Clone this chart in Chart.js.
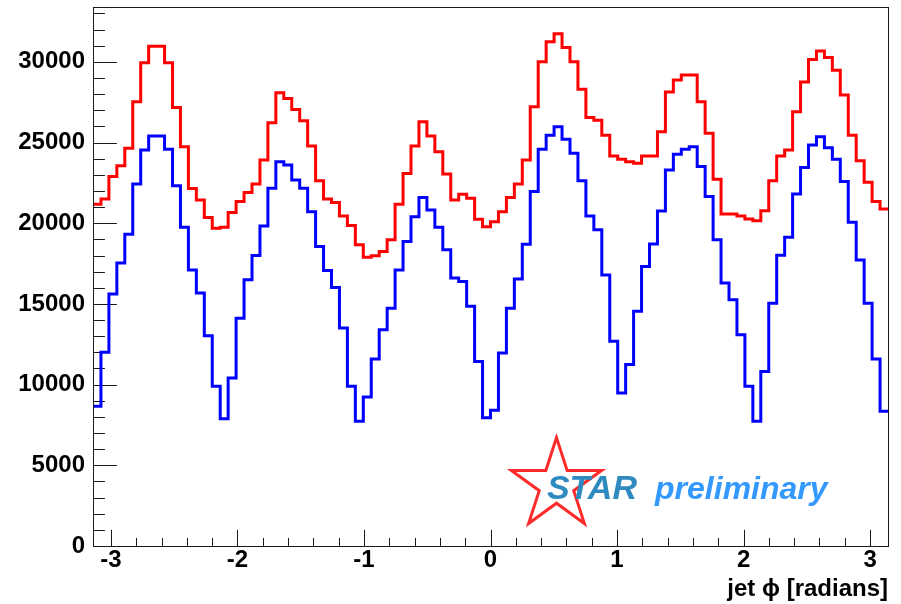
<!DOCTYPE html>
<html>
<head>
<meta charset="utf-8">
<script src="https://cdn.jsdelivr.net/npm/chart.js@4.4.1/dist/chart.umd.min.js"></script>
<style>
  html, body { margin: 0; padding: 0; background: #ffffff; }
  #wrap { width: 901px; height: 604px; }
</style>
</head>
<body>
<div id="wrap"><canvas id="c" width="901" height="604"></canvas></div>
<script>
// Binning of the jet azimuth histogram
const PHI_MIN = -Math.PI;
const PHI_MAX = Math.PI;
const N_BINS = 100;

// Axis tick labels
const X_TICKS = [-3, -2, -1, 0, 1, 2, 3];
const Y_TICKS = [0, 5000, 10000, 15000, 20000, 25000, 30000];
const Y_MAX = 33400;

// Bin contents, upper (red) histogram
const RED_COUNTS = [
  21180, 21500, 22900, 23570, 24640, 27530, 29940, 30970, 30970, 29940,
  27180, 24740, 22160, 21440, 20350, 19690, 19750, 20660, 21340, 21900,
  22430, 23920, 26230, 28080, 27730, 27050, 26350, 24780, 22640, 21510,
  21280, 20450, 19860, 18660, 17900, 17980, 18250, 18970, 21180, 23090,
  24780, 26290, 25400, 24430, 23050, 21440, 21790, 21550, 20250, 19790,
  20100, 20720, 21590, 22430, 23920, 27220, 30000, 31240, 31750, 30890,
  30000, 28310, 26560, 26390, 25460, 24160, 23960, 23810, 23710, 24160,
  24160, 25670, 28140, 28870, 29180, 29180, 27530, 25570, 22720, 20580,
  20580, 20450, 20270, 20160, 20780, 22640, 24160, 24540, 26910, 28760,
  30140, 30680, 30270, 29480, 27940, 25460, 23880, 22540, 21340, 20890
];

// Bin contents, lower (blue) histogram
const BLUE_COUNTS = [
   8660, 12000, 15610, 17530, 19320, 22430, 24540, 25400, 25400, 24580,
  22330, 19750, 17110, 15670, 13030,  9900,  7880, 10410, 14120, 16500,
  18000, 19835, 22165, 23810, 23610, 22680, 22165, 20720, 18560, 17070,
  16020, 13510,  9900,  7730,  9240, 11590, 13400, 14740, 17110, 18870,
  20410, 21590, 20820, 19750, 18350, 16600, 16390, 14850, 11440,  7940,
   8410, 11960, 14740, 16540, 18700, 21960, 24580, 25460, 25980, 25200,
  24330, 22640, 20450, 19590, 16800, 12680,  9480, 11240, 14540, 17320,
  18720, 20760, 23300, 24270, 24580, 24740, 23510, 21650, 18970, 16290,
  15260, 13090,  9900,  7730, 10820, 15050, 18020, 19130, 21810, 23460,
  24850, 25360, 24680, 23960, 22580, 20060, 17730, 15050, 11590,  8350
];

const BIN_W = (PHI_MAX - PHI_MIN) / N_BINS;

// Step-histogram points: one point per lower bin edge, plus the closing upper edge
function toSteps(counts) {
  const pts = counts.map((v, i) => ({ x: PHI_MIN + i * BIN_W, y: v }));
  pts.push({ x: PHI_MAX, y: counts[counts.length - 1] });
  return pts;
}

const LABEL_FONT = { family: "'Liberation Sans', Arial, Helvetica, sans-serif", weight: 'bold', size: 24 };

// White page, inward tick marks and the closed frame around the plot
const frameAndTicks = {
  id: 'frameAndTicks',
  beforeDraw(chart) {
    const ctx = chart.ctx;
    ctx.save();
    ctx.fillStyle = '#ffffff';
    ctx.fillRect(0, 0, chart.width, chart.height);
    ctx.restore();
  },
  beforeDatasetsDraw(chart) {
    const { ctx, chartArea: a, scales: { x, y } } = chart;
    const w = a.right - a.left, h = a.bottom - a.top;
    const xMajor = 0.03 * h, yMajor = 0.03 * w;
    ctx.save();
    ctx.strokeStyle = '#1a1a1a';
    ctx.lineWidth = 1;
    ctx.beginPath();
    for (let k = -20; k <= 20; k++) {
      const v = k * 0.2;
      if (v < PHI_MIN || v > PHI_MAX) continue;
      const px = Math.round(x.getPixelForValue(v)) + 0.5;
      const len = (k % 5 === 0) ? xMajor : xMajor / 2;
      ctx.moveTo(px, a.bottom);
      ctx.lineTo(px, a.bottom - len);
    }
    for (let k = 0; k * 1000 <= Y_MAX; k++) {
      const py = Math.round(y.getPixelForValue(k * 1000)) + 0.5;
      const len = (k % 5 === 0) ? yMajor : yMajor / 2;
      ctx.moveTo(a.left, py);
      ctx.lineTo(a.left + len, py);
    }
    ctx.stroke();
    ctx.restore();
  },
  afterDatasetsDraw(chart) {
    const { ctx, chartArea: a } = chart;
    ctx.save();
    ctx.strokeStyle = '#1a1a1a';
    ctx.lineWidth = 1;
    ctx.strokeRect(Math.round(a.left) + 0.5, Math.round(a.top) + 0.5,
                   Math.round(a.right - a.left), Math.round(a.bottom - a.top));
    ctx.restore();
  }
};

// "STAR preliminary" stamp with its outlined star
const starStamp = {
  id: 'starStamp',
  afterDraw(chart) {
    const { ctx, chartArea: a } = chart;
    const W = a.right - a.left, H = a.bottom - a.top;
    const cx = a.left + 0.583 * W, cy = a.top + 0.887 * H;
    const R = 0.088 * H, r = R * 0.382;
    ctx.save();
    ctx.beginPath();
    for (let i = 0; i < 10; i++) {
      const ang = -Math.PI / 2 + i * Math.PI / 5;
      const rr = (i % 2 === 0) ? R : r;
      const px = cx + rr * Math.cos(ang), py = cy + rr * Math.sin(ang);
      if (i === 0) ctx.moveTo(px, py); else ctx.lineTo(px, py);
    }
    ctx.closePath();
    ctx.strokeStyle = '#ff2a2a';
    ctx.lineWidth = 3;
    ctx.lineJoin = 'miter';
    ctx.stroke();

    ctx.textBaseline = 'alphabetic';
    ctx.textAlign = 'left';
    ctx.font = "italic bold 34px 'Liberation Sans', Arial, sans-serif";
    ctx.fillStyle = '#2f8ac0';
    ctx.fillText('STAR', a.left + 0.571 * W, cy + 14);
    ctx.font = "italic bold 32px 'Liberation Sans', Arial, sans-serif";
    ctx.fillStyle = '#3399ff';
    ctx.fillText('preliminary', a.left + 0.707 * W, cy + 14);
    ctx.restore();
  }
};

new Chart(document.getElementById('c'), {
  type: 'line',
  data: {
    datasets: [
      {
        label: 'hist1',
        data: toSteps(RED_COUNTS),
        borderColor: '#ff0000',
        borderWidth: 3,
        stepped: 'before',
        pointRadius: 0,
        fill: false,
        tension: 0
      },
      {
        label: 'hist2',
        data: toSteps(BLUE_COUNTS),
        borderColor: '#0000ff',
        borderWidth: 3,
        stepped: 'before',
        pointRadius: 0,
        fill: false,
        tension: 0
      }
    ]
  },
  options: {
    responsive: false,
    animation: false,
    devicePixelRatio: 1,
    layout: { padding: { left: 0, right: 13, top: 7, bottom: 0 } },
    plugins: {
      legend: { display: false },
      tooltip: { enabled: false },
      title: { display: false }
    },
    scales: {
      x: {
        type: 'linear',
        min: PHI_MIN,
        max: PHI_MAX,
        afterBuildTicks: (s) => { s.ticks = X_TICKS.map(v => ({ value: v })); },
        afterFit: (s) => { s.height = 58; s.paddingLeft = 0; s.paddingRight = 0; },
        grid: { display: false, drawTicks: false },
        border: { display: false },
        ticks: {
          font: LABEL_FONT,
          color: '#000000',
          padding: 0,
          maxRotation: 0,
          autoSkip: false,
          callback: (v) => String(v)
        },
        title: {
          display: true,
          text: 'jet \u03d5 [radians]',
          align: 'end',
          color: '#000000',
          font: LABEL_FONT,
          padding: { top: 0, bottom: 0 }
        }
      },
      y: {
        type: 'linear',
        min: 0,
        max: Y_MAX,
        afterBuildTicks: (s) => { s.ticks = Y_TICKS.map(v => ({ value: v })); },
        afterFit: (s) => { s.width = 93; s.paddingTop = 0; s.paddingBottom = 0; },
        grid: { display: false, drawTicks: false },
        border: { display: false },
        ticks: {
          font: LABEL_FONT,
          color: '#000000',
          padding: 8,
          autoSkip: false,
          callback: (v) => String(v)
        }
      }
    }
  },
  plugins: [frameAndTicks, starStamp]
});
</script>
</body>
</html>
